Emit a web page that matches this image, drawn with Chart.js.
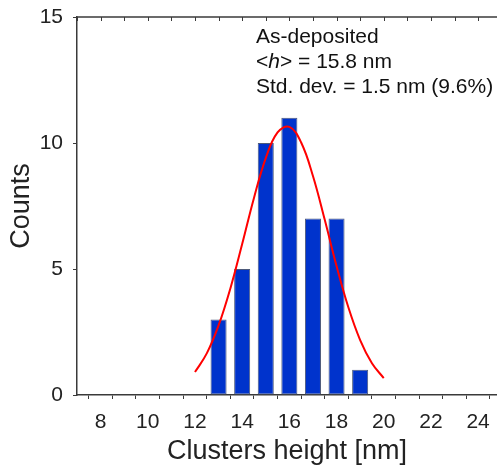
<!DOCTYPE html>
<html>
<head>
<meta charset="utf-8">
<script src="https://cdn.jsdelivr.net/npm/chart.js@4"></script>
<style>
  html, body { margin: 0; padding: 0; background: #fff; overflow: hidden; }
  #wrap { width: 497px; height: 469px; }
</style>
</head>
<body>
<div id="wrap"><canvas id="histChart" width="497" height="469"></canvas></div>
<script>
// --- DATA ---
const binCenters = [13, 14, 15, 16, 17, 18, 19];
const binCounts = [3, 5, 10, 11, 7, 7, 1];

// Gaussian fit curve
const fitX = [12, 12.5, 13, 13.5, 14, 14.5, 15, 15.5, 16, 16.5, 17, 17.5, 18, 18.5, 19, 19.5, 20];
const fitY = [0.91, 1.65, 2.76, 4.23, 5.99, 7.82, 9.40, 10.42, 10.64, 10.02, 8.69, 6.95, 5.12, 3.48, 2.18, 1.26, 0.67];

const xTicks = [8, 10, 12, 14, 16, 18, 20, 22, 24];
const yTicks = [0, 5, 10, 15];

const noteLines = ['As-deposited', '= 15.8 nm', 'Std. dev. = 1.5 nm (9.6%)'];

const FONT = "'Liberation Sans', Arial, Helvetica, sans-serif";
const AXIS_COLOR = '#3a3a3a';

// top frame line with inward minor ticks, plus the annotation text
const framePlugin = {
    id: 'frame',
    afterDraw(chart) {
        const { ctx, chartArea, scales } = chart;
        ctx.save();
        ctx.strokeStyle = AXIS_COLOR;
        ctx.lineWidth = 1.5;
        ctx.beginPath();
        ctx.moveTo(chartArea.left, chartArea.top);
        ctx.lineTo(chartArea.right, chartArea.top);
        ctx.stroke();
        ctx.lineWidth = 1;
        for (let v = Math.ceil(scales.x.min); v <= scales.x.max; v++) {
            const px = Math.round(scales.x.getPixelForValue(v)) + 0.5;
            ctx.beginPath();
            ctx.moveTo(px, chartArea.top);
            ctx.lineTo(px, chartArea.top + 4);
            ctx.stroke();
        }

        // annotation
        ctx.fillStyle = '#111';
        ctx.font = '21px ' + FONT;
        ctx.textBaseline = 'alphabetic';
        const x0 = 256;
        ctx.fillText(noteLines[0], x0, 43);
        // <h> with italic h
        let x = x0;
        ctx.fillText('<', x, 68);
        x += ctx.measureText('<').width;
        ctx.font = 'italic 21px ' + FONT;
        ctx.fillText('h', x, 68);
        x += ctx.measureText('h').width;
        ctx.font = '21px ' + FONT;
        ctx.fillText('> ', x, 68);
        x += ctx.measureText('> ').width;
        ctx.fillText(noteLines[1], x, 68);
        ctx.fillText(noteLines[2], x0, 93);
        ctx.restore();
    }
};

const ctx = document.getElementById('histChart').getContext('2d');
new Chart(ctx, {
    data: {
        datasets: [
            {
                type: 'line',
                data: fitX.map((v, i) => ({ x: v, y: fitY[i] })),
                borderColor: '#ff0000',
                borderWidth: 2,
                pointRadius: 0,
                tension: 0.4,
                fill: false,
                order: 0
            },
            {
                type: 'bar',
                data: binCenters.map((v, i) => ({ x: v, y: binCounts[i] })),
                backgroundColor: '#0033cc',
                borderColor: '#4d5a7a',
                borderWidth: 1,
                borderSkipped: false,
                barPercentage: 0.68,
                categoryPercentage: 1.0,
                order: 1
            }
        ]
    },
    options: {
        responsive: false,
        animation: false,
        layout: { padding: { top: 17, right: 0, left: 0, bottom: 0 } },
        plugins: {
            legend: { display: false },
            tooltip: { enabled: false }
        },
        scales: {
            x: {
                type: 'linear',
                min: 7,
                max: 24.8,
                offset: false,
                afterFit: s => { s.height = 74; s.paddingLeft = 0; s.paddingRight = 0; },
                afterBuildTicks: s => {
                    const t = [];
                    for (let v = 7; v <= 24; v++) t.push({ value: v });
                    s.ticks = t;
                },
                ticks: {
                    autoSkip: false,
                    maxRotation: 0,
                    color: '#222',
                    font: { family: FONT, size: 21 },
                    padding: 11,
                    callback: v => xTicks.includes(v) ? String(v) : ''
                },
                grid: { drawOnChartArea: false, tickLength: 4, tickColor: AXIS_COLOR, tickWidth: 1 },
                border: { color: AXIS_COLOR, width: 1.5 },
                title: {
                    display: true,
                    text: 'Clusters height [nm]',
                    color: '#222',
                    font: { family: FONT, size: 27 },
                    padding: { top: 0, bottom: 1 }
                }
            },
            y: {
                min: 0,
                max: 15,
                afterFit: s => { s.width = 77; s.paddingTop = 0; s.paddingBottom = 0; },
                afterBuildTicks: s => { s.ticks = yTicks.map(v => ({ value: v })); },
                ticks: {
                    color: '#222',
                    font: { family: FONT, size: 21 },
                    padding: 10
                },
                grid: { drawOnChartArea: false, tickLength: 4, tickColor: AXIS_COLOR, tickWidth: 1 },
                border: { color: AXIS_COLOR, width: 1.5 },
                title: {
                    display: true,
                    text: 'Counts',
                    color: '#222',
                    font: { family: FONT, size: 27 },
                    padding: { top: 5, bottom: 0 }
                }
            }
        }
    },
    plugins: [framePlugin]
});
</script>
</body>
</html>
